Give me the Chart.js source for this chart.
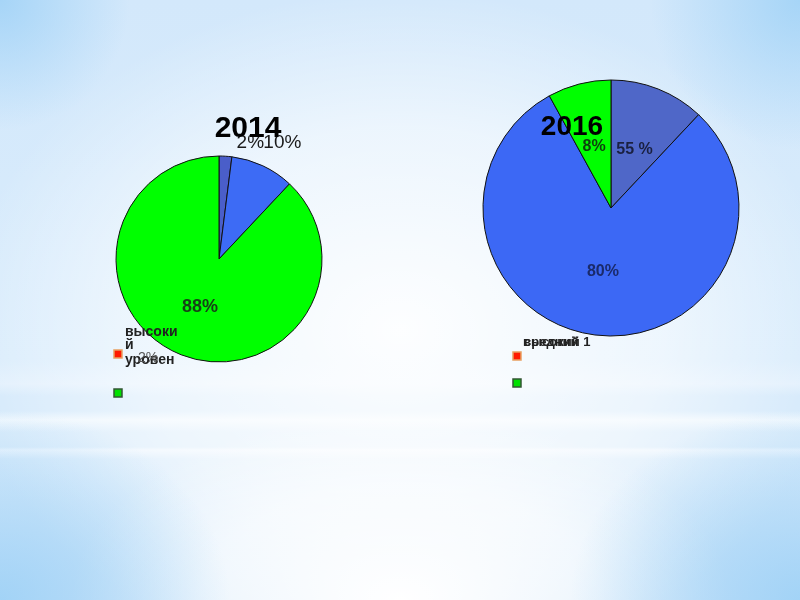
<!DOCTYPE html>
<html>
<head>
<meta charset="utf-8">
<script src="https://cdn.jsdelivr.net/npm/chart.js@4/dist/chart.umd.min.js"></script>
<style>
html, body { margin: 0; padding: 0; }
#slide {
    position: relative;
    width: 800px;
    height: 600px;
    overflow: hidden;
    background:
        radial-gradient(circle 130px at 0 0, rgba(155,208,246,0.8), rgba(155,208,246,0)),
        radial-gradient(circle 150px at 800px 0, rgba(155,208,246,0.8), rgba(155,208,246,0)),
        radial-gradient(ellipse 230px 190px at 0 600px, rgba(155,208,246,0.85), rgba(155,208,246,0)),
        radial-gradient(ellipse 230px 190px at 800px 600px, rgba(155,208,246,0.85), rgba(155,208,246,0)),
        radial-gradient(ellipse 330px 190px at 400px 600px, #fff, rgba(255,255,255,0.6) 60%, rgba(255,255,255,0)),
        radial-gradient(ellipse 440px 340px at 400px 330px, rgba(255,255,255,0.95), rgba(255,255,255,0.55) 60%, rgba(255,255,255,0)),
        linear-gradient(to bottom, #d3e8fb 0%, #d9ecfc 60%, #e2f0fd 64%, #d4e9fb 66%, #d4e9fb 68.5%, #eef7fe 70%, #d8ebfb 72%, #d8ebfb 74.5%, #ecf5fe 75%, #d6eafb 76.5%, #cce4f9 100%);
}
canvas { position: absolute; left: 0; top: 0; }
</style>
</head>
<body>
<div id="slide">
    <canvas id="chart2014" width="800" height="600"></canvas>
    <canvas id="chart2016" width="800" height="600"></canvas>
</div>
<script>
// данные
var labels2014 = ['высокий уровень', 'средний уровень', 'низкий уровень'];
var values2014 = [2, 10, 88];
var valueText2014 = ['2%', '10%', '88%'];

var labels2016 = ['высокий уровень', 'средний уровень', 'низкий уровень'];
var values2016 = [12, 80, 8];
var valueText2016 = ['55 %', '80%', '8%'];

var legendText2014 = ['высоки', 'й', 'уровен'];
var legendText2016 = ['высокий 1', 'средний'];

var FONT = "'Liberation Sans', Arial, sans-serif";

// подписи значений, заголовок, легенда
var piePlugin = {
    id: 'pieText',
    afterDatasetsDraw: function (chart, args, opts) {
        var c = chart.ctx;
        var arcs = chart.getDatasetMeta(0).data;
        c.save();
        c.textAlign = 'center';
        c.textBaseline = 'middle';
        arcs.forEach(function (arc, i) {
            var p = arc.getProps(['x', 'y', 'startAngle', 'endAngle', 'outerRadius'], true);
            var mid = (p.startAngle + p.endAngle) / 2;
            var k = opts.radial[i];
            var x = p.x + Math.cos(mid) * p.outerRadius * k + opts.nudge[i][0];
            var y = p.y + Math.sin(mid) * p.outerRadius * k + opts.nudge[i][1];
            c.font = opts.labelFont[i];
            c.fillStyle = opts.labelColors[i];
            c.fillText(opts.texts[i], x, y);
        });

        var cx = arcs[0].x, cy = arcs[0].y;
        c.font = opts.titleFont;
        c.fillStyle = '#000';
        c.fillText(opts.title, cx + opts.titleOffset[0], cy + opts.titleOffset[1]);

        c.textAlign = 'left';
        opts.legendLines.forEach(function (t, j) {
            var pos = opts.legendText[j];
            c.font = pos[2] || opts.legendFont;
            c.fillStyle = pos[3] || '#222';
            c.fillText(t, pos[0], pos[1]);
        });
        opts.legendBoxes.forEach(function (b) {
            c.fillStyle = b.fill;
            c.strokeStyle = b.stroke;
            c.lineWidth = 1.5;
            c.fillRect(b.x, b.y, 8, 8);
            c.strokeRect(b.x, b.y, 8, 8);
        });
        c.restore();
    }
};

new Chart(document.getElementById('chart2014'), {
    type: 'pie',
    data: {
        labels: labels2014,
        datasets: [{
            data: values2014,
            backgroundColor: ['#4a5ec9', '#3d6bf5', '#00ff00'],
            borderColor: '#111',
            borderWidth: 1,
            hoverOffset: 0,
            radius: 103
        }]
    },
    options: {
        responsive: false,
        animation: false,
        events: [],
        layout: { padding: { left: 109, right: 471, top: 149, bottom: 231 } },
        plugins: {
            legend: { display: false },
            tooltip: { enabled: false },
            pieText: {
                texts: valueText2014,
                radial: [1.13, 1.24, 0.5],
                nudge: [[24, 0], [9, -1], [0, 0]],
                labelFont: ['19px ' + FONT, '19px ' + FONT, 'bold 18px ' + FONT],
                labelColors: ['#1a1a1a', '#1a1a1a', '#174017'],
                title: '2014',
                titleFont: 'bold 30px ' + FONT,
                titleOffset: [29, -130],
                legendFont: 'bold 14px ' + FONT,
                legendLines: legendText2014.concat(['2%']),
                legendText: [[125, 332], [125, 345], [125, 360], [138, 358, '14px ' + FONT, '#555']],
                legendBoxes: [
                    { x: 114, y: 350, fill: '#ff1a00', stroke: '#e8a060' },
                    { x: 114, y: 389, fill: '#00e000', stroke: '#335533' }
                ]
            }
        }
    },
    plugins: [piePlugin]
});

new Chart(document.getElementById('chart2016'), {
    type: 'pie',
    data: {
        labels: labels2016,
        datasets: [{
            data: values2016,
            backgroundColor: ['#4f67c8', '#3c68f5', '#00ff00'],
            borderColor: '#111',
            borderWidth: 1,
            hoverOffset: 0,
            radius: 128
        }]
    },
    options: {
        responsive: false,
        animation: false,
        events: [],
        layout: { padding: { left: 476, right: 54, top: 73, bottom: 257 } },
        plugins: {
            legend: { display: false },
            tooltip: { enabled: false },
            pieText: {
                texts: valueText2016,
                radial: [0.5, 0.5, 0.5],
                nudge: [[0, 1], [0, 0], [-1, 1]],
                labelFont: ['bold 16px ' + FONT, 'bold 16px ' + FONT, 'bold 16px ' + FONT],
                labelColors: ['#1a2040', '#1a2a6a', '#0d400d'],
                title: '2016',
                titleFont: 'bold 28px ' + FONT,
                titleOffset: [-39, -81],
                legendFont: 'bold 13px ' + FONT,
                legendLines: legendText2016,
                legendText: [[523, 342], [524, 342]],
                legendBoxes: [
                    { x: 513, y: 352, fill: '#ff1a00', stroke: '#e8a060' },
                    { x: 513, y: 379, fill: '#00e000', stroke: '#335533' }
                ]
            }
        }
    },
    plugins: [piePlugin]
});
</script>
</body>
</html>
